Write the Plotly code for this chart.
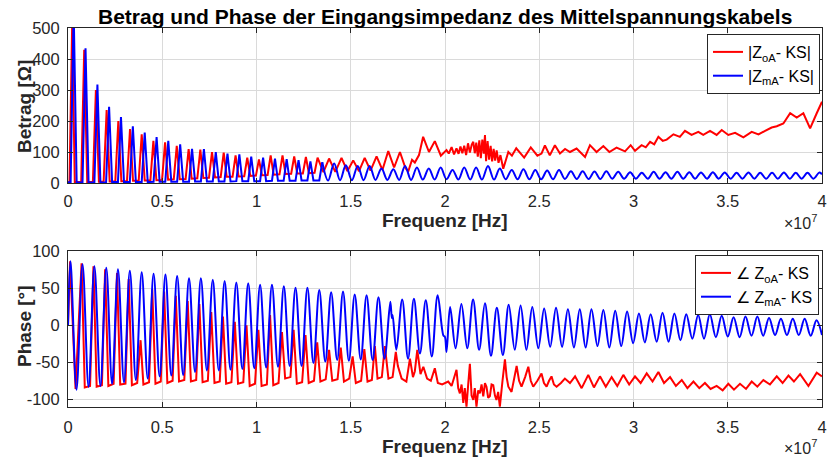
import plotly.graph_objects as go

# Frequencies in units of 1e7 Hz
# |Z_mA - KS|  (blue, magnitude, Ohm) - sharp resonance part
betrag_mA_low = [
    (0.000, 2), (0.014, 3), (0.030, 560), (0.046, 2),
    (0.077, 2), (0.093, 435), (0.109, 2),
    (0.140, 2), (0.156, 318), (0.172, 2),
    (0.202, 2), (0.218, 246), (0.234, 3),
    (0.265, 3), (0.281, 213), (0.297, 3),
    (0.328, 3), (0.344, 183), (0.360, 3),
    (0.391, 3), (0.407, 163), (0.423, 3),
    (0.454, 4), (0.470, 148), (0.486, 4),
    (0.516, 4), (0.532, 136), (0.548, 4),
    (0.579, 4), (0.595, 125), (0.611, 4),
    (0.642, 4), (0.658, 110), (0.674, 5),
    (0.705, 5), (0.721, 109), (0.737, 5),
    (0.768, 5), (0.784, 100), (0.800, 5),
    (0.830, 5), (0.846, 95), (0.862, 5),
    (0.893, 6), (0.909, 92), (0.925, 6),
    (0.956, 6), (0.972, 85), (0.988, 6),
    (1.019, 6), (1.035, 82), (1.051, 6),
    (1.082, 7), (1.098, 79), (1.114, 7),
    (1.144, 7), (1.160, 77), (1.176, 7),
    (1.207, 7), (1.223, 74), (1.239, 8),
    (1.270, 8), (1.286, 70), (1.302, 8),
    (1.333, 8), (1.349, 67),
]
# |Z_mA - KS|  (blue, magnitude, Ohm) - smooth part
betrag_mA_high = [
    (1.349, 67), (1.380, 8), (1.412, 63), (1.443, 9), (1.474, 57), (1.506, 9),
    (1.537, 55), (1.568, 9), (1.600, 55), (1.631, 10), (1.663, 47), (1.694, 10), (1.726, 44),
    (1.757, 10), (1.788, 55), (1.820, 10), (1.851, 50), (1.882, 11), (1.914, 47), (1.945, 11),
    (1.977, 50), (2.008, 12), (2.040, 42), (2.071, 11), (2.102, 50), (2.134, 11), (2.165, 50),
    (2.196, 11), (2.228, 55), (2.260, 11), (2.291, 47), (2.322, 12), (2.354, 42), (2.385, 12),
    (2.416, 44), (2.448, 12), (2.479, 42), (2.510, 12), (2.542, 40), (2.573, 12), (2.605, 42),
    (2.636, 13), (2.668, 38), (2.699, 13), (2.730, 38), (2.762, 13), (2.793, 37), (2.824, 13),
    (2.856, 38), (2.887, 14), (2.919, 36), (2.950, 14), (2.982, 35), (3.013, 14), (3.044, 33),
    (3.076, 14), (3.107, 36), (3.138, 14), (3.170, 35), (3.201, 14), (3.233, 36), (3.264, 14),
    (3.296, 35), (3.327, 14), (3.358, 34), (3.390, 14), (3.421, 35), (3.452, 14), (3.484, 34),
    (3.515, 14), (3.547, 33), (3.578, 14), (3.610, 34), (3.641, 14), (3.672, 33), (3.704, 14),
    (3.735, 33), (3.766, 14), (3.798, 34), (3.829, 14), (3.861, 33), (3.892, 14), (3.923, 33),
    (3.955, 14), (3.986, 34), (4.000, 28),
]

# |Z_oA - KS|  (red, magnitude, Ohm)
betrag_oA = [
    (0.000, 2), (0.008, 3), (0.022, 510), (0.036, 3),
    (0.070, 3), (0.086, 430), (0.102, 3),
    (0.132, 3), (0.148, 300), (0.164, 4),
    (0.189, 4), (0.205, 235), (0.221, 5),
    (0.251, 5), (0.267, 200), (0.283, 6),
    (0.313, 6), (0.329, 174), (0.345, 7),
    (0.375, 7), (0.391, 157), (0.407, 8),
    (0.437, 8), (0.453, 136), (0.469, 9),
    (0.499, 10), (0.515, 131), (0.531, 11),
    (0.561, 12), (0.577, 120), (0.593, 12),
    (0.624, 13), (0.640, 109), (0.656, 14),
    (0.686, 15), (0.702, 108), (0.718, 16),
    (0.748, 17), (0.764, 100), (0.780, 18),
    (0.810, 19), (0.826, 98), (0.842, 20),
    (0.873, 20), (0.889, 89), (0.905, 21),
    (0.935, 22), (0.951, 82), (0.967, 23),
    (0.997, 24), (1.013, 76), (1.029, 25),
    (1.059, 26), (1.075, 89), (1.091, 27),
    (1.122, 28), (1.138, 89), (1.154, 29),
    (1.184, 30), (1.200, 86), (1.216, 31),
    (1.246, 31), (1.262, 84), (1.278, 32),
    (1.308, 33), (1.324, 82), (1.355, 35),
    (1.385, 79), (1.418, 36), (1.451, 81), (1.482, 38),
    (1.513, 73), (1.544, 38), (1.574, 81), (1.605, 40), (1.637, 86), (1.668, 42), (1.699, 103),
    (1.730, 50), (1.761, 100), (1.790, 48), (1.805, 37), (1.825, 75), (1.840, 66), (1.862, 90),
    (1.884, 149), (1.915, 100), (1.946, 135), (1.978, 88), (2.008, 106), (2.020, 95), (2.035, 116),
    (2.048, 92), (2.061, 112), (2.072, 94), (2.082, 118), (2.092, 96), (2.102, 120), (2.112, 90),
    (2.122, 128), (2.132, 98), (2.142, 124), (2.150, 133), (2.158, 96), (2.166, 130), (2.174, 85),
    (2.182, 138), (2.190, 80), (2.198, 140), (2.206, 95), (2.212, 155), (2.218, 70), (2.226, 135),
    (2.234, 75), (2.242, 120), (2.250, 70), (2.258, 110), (2.266, 72), (2.274, 105), (2.284, 65),
    (2.294, 90), (2.309, 46), (2.336, 100), (2.355, 88), (2.378, 112), (2.420, 82), (2.455, 115),
    (2.490, 88), (2.512, 95), (2.530, 121), (2.556, 89), (2.583, 122), (2.610, 95), (2.637, 110),
    (2.663, 100), (2.698, 111), (2.743, 84), (2.769, 122), (2.804, 100), (2.840, 119), (2.872, 100),
    (2.910, 114), (2.955, 102), (2.985, 122), (3.008, 104), (3.043, 122), (3.065, 115), (3.088, 133),
    (3.110, 125), (3.132, 149), (3.155, 136), (3.176, 140), (3.212, 157), (3.246, 149), (3.273, 168),
    (3.308, 155), (3.344, 165), (3.370, 155), (3.406, 168), (3.441, 155), (3.468, 171), (3.503, 155),
    (3.539, 162), (3.583, 147), (3.627, 165), (3.663, 157), (3.698, 168), (3.733, 179), (3.760, 183),
    (3.795, 192), (3.831, 225), (3.866, 211), (3.901, 225), (3.937, 176), (3.972, 225), (4.000, 262),
]

# angle Z_mA - KS  (blue, phase, degrees)
phase_mA = [
    (0.000, 0), (0.013, 87), (0.045, -87), (0.077, 83), (0.109, -83), (0.140, 80), (0.172, -82),
    (0.203, 78), (0.234, -79), (0.265, 76), (0.297, -77), (0.328, 74), (0.360, -74), (0.391, 72),
    (0.423, -72), (0.454, 70), (0.486, -69), (0.517, 69), (0.548, -68), (0.579, 67), (0.611, -67),
    (0.642, 64), (0.674, -63), (0.705, 64), (0.737, -61), (0.768, 62), (0.800, -61), (0.831, 60),
    (0.862, -60), (0.893, 58), (0.925, -59), (0.956, 57), (0.988, -58), (1.019, 55), (1.051, -57),
    (1.082, 55), (1.114, -56), (1.145, 53), (1.176, -55), (1.207, 51), (1.239, -55), (1.270, 51),
    (1.302, -51), (1.333, 48), (1.365, -49), (1.396, 45), (1.428, -47), (1.459, 46), (1.490, -48),
    (1.521, 42), (1.553, -46), (1.584, 41), (1.616, -47), (1.647, 38), (1.679, -45), (1.710, 32),
    (1.718, 10), (1.722, 14), (1.742, -33), (1.773, 35), (1.804, -45), (1.835, 36), (1.867, -38),
    (1.898, 34), (1.930, -42), (1.961, 41), (1.992, -14), (1.999, -15), (2.008, -36), (2.027, 25),
    (2.056, -31), (2.087, 29), (2.118, -31), (2.149, 35), (2.181, -33), (2.212, 30), (2.244, -41),
    (2.275, 24), (2.307, -40), (2.338, 28), (2.370, -33), (2.401, 27), (2.432, -33), (2.463, 25),
    (2.495, -31), (2.526, 23), (2.558, -29), (2.589, 24), (2.621, -29), (2.652, 22), (2.684, -30),
    (2.715, 22), (2.746, -30), (2.777, 22), (2.809, -28), (2.840, 21), (2.872, -30), (2.903, 20),
    (2.935, -28), (2.966, 19), (2.998, -24), (3.029, 16), (3.060, -23), (3.091, 15), (3.123, -22),
    (3.154, 17), (3.186, -22), (3.217, 16), (3.249, -20), (3.280, 15), (3.312, -18), (3.343, 14),
    (3.374, -18), (3.405, 15), (3.437, -16), (3.468, 13), (3.500, -15), (3.531, 11), (3.563, -16),
    (3.594, 12), (3.626, -14), (3.657, 12), (3.688, -14), (3.719, 10), (3.751, -13), (3.782, 9),
    (3.814, -13), (3.845, 9), (3.877, -13), (3.908, 9), (3.940, -14), (3.971, 7), (4.000, -13),
]

# angle Z_oA - KS  (red, phase, degrees)
phase_oA = [
    (0.000, 0), (0.011, 87), (0.040, -86),
    (0.072, 84), (0.089, -84), (0.117, -82), (0.135, 80), (0.152, -83), (0.180, -81),
    (0.197, 76), (0.214, -82), (0.242, -79), (0.260, 71), (0.277, -80), (0.305, -79),
    (0.322, 63), (0.339, -81), (0.367, -78), (0.385, -20), (0.400, -80), (0.430, -77),
    (0.447, 49), (0.464, -79), (0.492, -76), (0.510, 46), (0.527, -78), (0.555, -75),
    (0.572, 40), (0.589, -76), (0.617, -74), (0.635, 33), (0.652, -76), (0.680, -74),
    (0.697, 29), (0.714, -77), (0.742, -75), (0.760, 18), (0.777, -78), (0.805, -76),
    (0.822, 12), (0.839, -79), (0.867, -77), (0.885, 5), (0.902, -79), (0.930, -77),
    (0.947, 0), (0.964, -82), (0.992, -79), (1.010, -6), (1.027, -82), (1.055, -80),
    (1.072, 14), (1.089, -81), (1.117, -78), (1.135, -9), (1.152, -72), (1.180, -70),
    (1.197, -6), (1.214, -79), (1.242, -77), (1.260, -13), (1.277, -78), (1.305, -75),
    (1.322, -23), (1.339, -76), (1.367, -73), (1.385, -33), (1.402, -75), (1.430, -73),
    (1.447, -30), (1.464, -76), (1.492, -72), (1.510, -42), (1.527, -78), (1.555, -75),
    (1.572, -32), (1.589, -76), (1.612, -74), (1.628, -28), (1.642, -72), (1.665, -70),
    (1.681, -28), (1.700, -72), (1.722, -70), (1.739, -36), (1.750, -55), (1.770, -72),
    (1.795, -76), (1.814, -45), (1.830, -70), (1.840, -62), (1.853, -33), (1.870, -66),
    (1.885, -56), (1.905, -72), (1.925, -75), (1.946, -58), (1.962, -78), (1.985, -80),
    (2.000, -78), (2.017, -76), (2.035, -82), (2.048, -70), (2.061, -60), (2.070, -85),
    (2.079, -92), (2.088, -80), (2.097, -105), (2.105, -85), (2.114, -110), (2.123, -80),
    (2.132, -52), (2.141, -95), (2.150, -101), (2.158, -85), (2.167, -110), (2.176, -88),
    (2.185, -92), (2.194, -80), (2.203, -96), (2.212, -78), (2.220, -83), (2.229, -98),
    (2.238, -96), (2.247, -80), (2.256, -81), (2.265, -95), (2.273, -101), (2.282, -90),
    (2.291, -110), (2.305, -75), (2.318, -46), (2.327, -70), (2.336, -83), (2.353, -90),
    (2.367, -70), (2.380, -55), (2.393, -75), (2.406, -83), (2.425, -70), (2.442, -56),
    (2.455, -75), (2.468, -83), (2.490, -75), (2.512, -65), (2.525, -78), (2.539, -83),
    (2.552, -75), (2.565, -69), (2.578, -80), (2.592, -83), (2.615, -78), (2.636, -72),
    (2.663, -78), (2.690, -69), (2.725, -85), (2.760, -67), (2.790, -84), (2.822, -69),
    (2.853, -83), (2.884, -70), (2.914, -82), (2.946, -67), (2.977, -80), (3.008, -69),
    (3.038, -78), (3.070, -65), (3.101, -76), (3.132, -63), (3.162, -78), (3.194, -70),
    (3.225, -82), (3.256, -74), (3.286, -85), (3.318, -76), (3.349, -85), (3.379, -78),
    (3.409, -86), (3.441, -82), (3.473, -88), (3.503, -79), (3.533, -87), (3.565, -79),
    (3.597, -86), (3.627, -76), (3.657, -83), (3.689, -74), (3.724, -80), (3.760, -69),
    (3.791, -78), (3.822, -68), (3.851, -76), (3.884, -66), (3.928, -82), (3.972, -64),
    (4.000, -69),
]

x_ticks = [0, 0.5, 1, 1.5, 2, 2.5, 3, 3.5, 4]
x_ticklabels = ["0", "0.5", "1", "1.5", "2", "2.5", "3", "3.5", "4"]
y1_ticks = [0, 100, 200, 300, 400, 500]
y2_ticks = [-100, -50, 0, 50, 100]
y2_ticklabels = ["-100", "-50", "0", "50", "100"]

title_text = "Betrag und Phase der Eingangsimpedanz des Mittelspannungskabels"
names = ["|Z<sub>oA</sub>- KS|", "|Z<sub>mA</sub>- KS|",
         "\u2220 Z<sub>oA</sub>- KS", "\u2220 Z<sub>mA</sub>- KS"]

FONT = "Liberation Sans, Arial, Helvetica, sans-serif"
RED = "#ff0000"
BLUE = "#0000ff"
AXC = "#262626"

def xs(pts):
    return [p[0] for p in pts]

def ys(pts):
    return [p[1] for p in pts]

fig = go.Figure()
fig.add_trace(go.Scatter(x=xs(betrag_oA), y=ys(betrag_oA), mode="lines", name=names[0],
                         line=dict(color=RED, width=2), xaxis="x", yaxis="y", legend="legend"))
fig.add_trace(go.Scatter(x=xs(betrag_mA_low), y=ys(betrag_mA_low), mode="lines", name=names[1],
                         legendgroup="bm", line=dict(color=BLUE, width=2),
                         xaxis="x", yaxis="y", legend="legend"))
fig.add_trace(go.Scatter(x=xs(betrag_mA_high), y=ys(betrag_mA_high), mode="lines", name=names[1],
                         legendgroup="bm", showlegend=False,
                         line=dict(color=BLUE, width=2, shape="spline", smoothing=1),
                         xaxis="x", yaxis="y", legend="legend"))
fig.add_trace(go.Scatter(x=xs(phase_oA), y=ys(phase_oA), mode="lines", name=names[2],
                         line=dict(color=RED, width=2), xaxis="x2", yaxis="y2", legend="legend2"))
fig.add_trace(go.Scatter(x=xs(phase_mA), y=ys(phase_mA), mode="lines", name=names[3],
                         line=dict(color=BLUE, width=2, shape="spline", smoothing=1),
                         xaxis="x2", yaxis="y2", legend="legend2"))

W, H = 829, 461
ML, MR, MT, MB = 68, 7, 28, 54
PW, PH = W - ML - MR, H - MT - MB

def px(xpix):
    return (xpix - ML) / PW

def py(ypix):
    return (H - MB - ypix) / PH

axis_common = dict(showline=True, linecolor=AXC, linewidth=1, mirror="ticks",
                   ticks="inside", ticklen=5, tickcolor=AXC, tickwidth=1,
                   showgrid=True, gridcolor="#dadada", gridwidth=1, zeroline=False,
                   automargin=False,
                   tickfont=dict(family=FONT, size=16.5, color=AXC))

fig.update_layout(
    width=W, height=H, margin=dict(l=ML, r=MR, t=MT, b=MB, autoexpand=False),
    paper_bgcolor="white", plot_bgcolor="white", showlegend=True,
    xaxis=dict(axis_common, domain=[0, 1], range=[0, 4], tickvals=x_ticks,
               ticktext=x_ticklabels, anchor="y", ticklabelstandoff=3),
    yaxis=dict(axis_common, domain=[py(183), 1], range=[0, 500], tickvals=y1_ticks,
               anchor="x", ticklabelstandoff=4),
    xaxis2=dict(axis_common, domain=[0, 1], range=[0, 4], tickvals=x_ticks,
                ticktext=x_ticklabels, anchor="y2", ticklabelstandoff=5),
    yaxis2=dict(axis_common, domain=[0, py(251)], range=[-110.5, 100.8], tickvals=y2_ticks,
                ticktext=y2_ticklabels, anchor="x2", ticklabelstandoff=4),
    legend=dict(x=px(820), xanchor="right", y=py(34), yanchor="top", bgcolor="white",
                bordercolor=AXC, borderwidth=1, itemwidth=30, tracegroupgap=0,
                font=dict(family=FONT, size=16, color="black")),
    legend2=dict(x=px(819), xanchor="right", y=py(255), yanchor="top", bgcolor="white",
                 bordercolor=AXC, borderwidth=1, itemwidth=30, tracegroupgap=0,
                 font=dict(family=FONT, size=16, color="black")),
)

ann = []
ann.append(dict(text=title_text, x=0.5, y=py(16), xref="paper", yref="paper",
                showarrow=False, xanchor="center", yanchor="middle",
                font=dict(family=FONT, size=21, color="black", weight="bold")))
for label, yc in (("Betrag [\u03a9]", 107), ("Phase [\u00b0]", 326)):
    ann.append(dict(text=label, x=px(24), y=py(yc), xref="paper", yref="paper", textangle=-90,
                    showarrow=False, xanchor="center", yanchor="middle",
                    font=dict(family=FONT, size=19, color=AXC, weight="bold")))
for yc in (220, 446):
    ann.append(dict(text="Frequenz [Hz]", x=0.5, y=py(yc), xref="paper", yref="paper",
                    showarrow=False, xanchor="center", yanchor="middle",
                    font=dict(family=FONT, size=19, color=AXC, weight="bold")))
for yc in (222, 447):
    ann.append(dict(text="\u00d710<sup>7</sup>", x=px(800), y=py(yc), xref="paper", yref="paper",
                    showarrow=False, xanchor="center", yanchor="middle",
                    font=dict(family=FONT, size=16, color=AXC)))
fig.update_layout(annotations=ann)

fig.write_html("out.html", config={"displayModeBar": False},
               post_script="document.body.style.margin='0';document.body.style.overflow='hidden';")
